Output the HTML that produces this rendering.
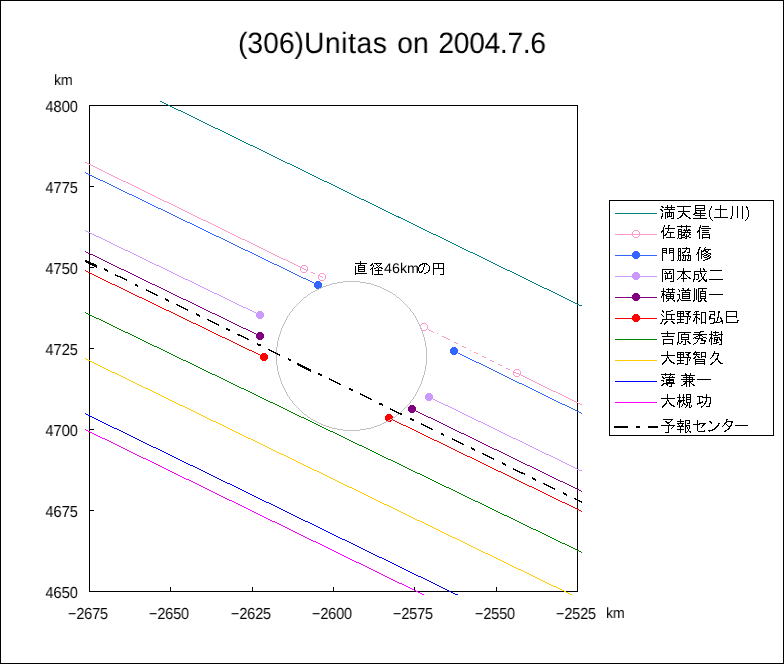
<!DOCTYPE html>
<html lang="ja">
<head>
<meta charset="utf-8">
<title>(306)Unitas on 2004.7.6</title>
<style>
html,body{margin:0;padding:0;background:#fff;overflow:hidden}
#chart{position:relative;width:784px;height:664px;box-sizing:border-box;border:1px solid #000;background:#fff;overflow:hidden;font-family:"Liberation Sans",sans-serif;color:#000}
#chart svg{margin:-1px 0 0 -1px}
.t{position:absolute;white-space:nowrap;line-height:1;margin:-1px 0 0 -1px;transform-origin:0 0;will-change:transform;text-rendering:geometricPrecision}
.title{font-size:29.5px;transform:scaleX(.9575);word-spacing:2px}
.title .u{letter-spacing:.6px}
.title .d{letter-spacing:-.35px}
.yl{font-size:16px;left:24px;width:54px;text-align:right;transform-origin:100% 0;transform:scaleX(.92)}
.xl{font-size:16px;top:607px;width:60px;text-align:center;transform-origin:50% 0;transform:scaleX(.89)}
.km{font-size:15px;transform:scaleX(.93)}
.ann{font-size:14px;transform:scaleX(1.02)}
.sr{position:absolute;width:1px;height:1px;margin:-1px;padding:0;border:0;overflow:hidden;clip:rect(0 0 0 0);clip-path:inset(50%);white-space:nowrap;list-style:none}
</style>
</head>
<body>
<div id="chart">
<svg role="img" aria-label="(306)Unitas on 2004.7.6 occultation chord chart" width="784" height="664" viewBox="0 0 784 664" shape-rendering="crispEdges" style="position:absolute;left:0;top:0">
<defs><clipPath id="pc"><rect x="85" y="101" width="497" height="494"/></clipPath></defs>
<g id="axes">
<rect x="89.5" y="105.5" width="488" height="486" fill="none" stroke="#000" stroke-width="1"/>
<path d="M90 510.5h4M170.5 591v-4M90 429.5h4M252.5 591v-4M90 348.5h4M333.5 591v-4M90 267.5h4M414.5 591v-4M90 186.5h4M496.5 591v-4" stroke="#000" stroke-width="1" fill="none"/>
</g>
<g id="series" clip-path="url(#pc)">
<path d="M150.00 95.65L582.00 305.74v1L150.00 96.65z" fill="#008080"/>
<path d="M85.00 161.76L304.00 268.50v1L85.00 162.76z" fill="#FF99CC"/>
<path d="M304.00 268.50L307.00 269.83v1L304.00 269.50z" fill="#FF99CC"/>
<path d="M311.00 271.61L315.00 273.39v1L311.00 272.61z" fill="#FF99CC"/>
<path d="M318.00 274.72L323.00 276.94v1L318.00 275.72z" fill="#FF99CC"/>
<path d="M428.00 328.78L434.00 331.75v1L428.00 329.78z" fill="#FF99CC"/>
<path d="M437.40 333.43L438.40 333.92v1L437.40 334.43z" fill="#FF99CC"/>
<path d="M442.00 335.70L450.00 339.66v1L442.00 336.70z" fill="#FF99CC"/>
<path d="M454.00 341.64L458.00 343.62v1L454.00 342.64z" fill="#FF99CC"/>
<path d="M462.00 345.60L466.00 347.57v1L462.00 346.60z" fill="#FF99CC"/>
<path d="M470.20 349.65L471.20 350.15v1L470.20 350.65z" fill="#FF99CC"/>
<path d="M474.00 351.53L478.00 353.51v1L474.00 352.53z" fill="#FF99CC"/>
<path d="M482.00 355.49L486.00 357.47v1L482.00 356.49z" fill="#FF99CC"/>
<path d="M490.00 359.45L494.00 361.42v1L490.00 360.45z" fill="#FF99CC"/>
<path d="M498.00 363.40L502.00 365.38v1L498.00 364.40z" fill="#FF99CC"/>
<path d="M506.00 367.36L510.00 369.34v1L506.00 368.36z" fill="#FF99CC"/>
<path d="M513.00 370.82L517.00 372.80v1L513.00 371.82z" fill="#FF99CC"/>
<path d="M517.00 372.50L582.00 404.55v1L517.00 373.50z" fill="#FF99CC"/>
<circle cx="304" cy="269" r="3.5" fill="none" stroke="#FF99CC" stroke-width="1"/>
<circle cx="322" cy="277" r="3.5" fill="none" stroke="#FF99CC" stroke-width="1"/>
<circle cx="424" cy="327" r="3.5" fill="none" stroke="#FF99CC" stroke-width="1"/>
<circle cx="517" cy="373" r="3.5" fill="none" stroke="#FF99CC" stroke-width="1"/>
<path d="M85.00 172.06L318.00 284.50v1L85.00 173.06z" fill="#3366FF"/>
<path d="M454.00 350.50L582.00 413.04v1L454.00 351.50z" fill="#3366FF"/>
<circle cx="318" cy="285" r="4" fill="#3366FF"/>
<circle cx="454" cy="351" r="4" fill="#3366FF"/>
<path d="M85.00 229.96L260.00 314.50v1L85.00 230.96z" fill="#CC99FF"/>
<path d="M429.00 396.50L582.00 470.74v1L429.00 397.50z" fill="#CC99FF"/>
<circle cx="260" cy="315" r="4" fill="#CC99FF"/>
<circle cx="429" cy="397" r="4" fill="#CC99FF"/>
<path d="M85.00 250.86L260.00 335.50v1L85.00 251.86z" fill="#800080"/>
<path d="M412.00 408.50L582.00 490.94v1L412.00 409.50z" fill="#800080"/>
<circle cx="260" cy="336" r="4" fill="#800080"/>
<circle cx="412" cy="409" r="4" fill="#800080"/>
<path d="M85.00 270.26L264.00 356.50v1L85.00 271.26z" fill="#FF0000"/>
<path d="M389.00 417.50L582.00 510.94v1L389.00 418.50z" fill="#FF0000"/>
<circle cx="264" cy="357" r="4" fill="#FF0000"/>
<circle cx="389" cy="418" r="4" fill="#FF0000"/>
<path d="M85.00 311.96L582.00 551.94v1L85.00 312.96z" fill="#008000"/>
<path d="M85.00 358.16L582.00 599.34v1L85.00 359.16z" fill="#FFCC00"/>
<path d="M85.00 413.16L470.00 600.57v1L85.00 414.16z" fill="#0000FF"/>
<path d="M85.00 428.96L440.00 602.28v1L85.00 429.96z" fill="#FF00FF"/>
<path transform="translate(0 .5)" d="M343 281h17M337 282h6M360 282h6M332 283h5M366 283h5M329 284h3M371 284h3M326 285h3M374 285h3M323 286h3M377 286h3M321 287h2M380 287h2M319 288h2M382 288h2M317 289h2M384 289h2M315 290h2M386 290h2M313 291h2M388 291h2M311 292h2M390 292h2M310 293h1M392 293h1M308 294h2M393 294h2M307 295h1M395 295h1M306 296h1M396 296h1M304 297h2M397 297h2M303 298h1M399 298h1M302 299h1M400 299h1M301 300h1M401 300h1M300 301h1M402 301h1M299 302h1M403 302h1M298 303h1M404 303h1M297 304h1M405 304h1M296 305h1M406 305h1M295 306h1M407 306h1M294 307h1M408 307h1M293 308h1M409 308h1M292 309h1M410 309h1M292 310h1M410 310h1M291 311h1M411 311h1M290 312h1M412 312h1M289 313h1M413 313h1M289 314h1M413 314h1M288 315h1M414 315h1M287 316h1M415 316h1M287 317h1M415 317h1M286 318h1M416 318h1M286 319h1M416 319h1M285 320h1M417 320h1M285 321h1M417 321h1M284 322h1M418 322h1M284 323h1M418 323h1M283 324h1M419 324h1M283 325h1M419 325h1M282 326h1M420 326h1M282 327h1M420 327h1M281 328h1M421 328h1M281 329h1M421 329h1M281 330h1M421 330h1M280 331h1M422 331h1M280 332h1M422 332h1M280 333h1M422 333h1M279 334h1M423 334h1M279 335h1M423 335h1M279 336h1M423 336h1M278 337h1M424 337h1M278 338h1M424 338h1M278 339h1M424 339h1M278 340h1M424 340h1M277 341h1M425 341h1M277 342h1M425 342h1M277 343h1M425 343h1M277 344h1M425 344h1M277 345h1M425 345h1M277 346h1M425 346h1M276 347h1M426 347h1M276 348h1M426 348h1M276 349h1M426 349h1M276 350h1M426 350h1M276 351h1M426 351h1M276 352h1M426 352h1M276 353h1M426 353h1M276 354h1M426 354h1M276 355h1M426 355h1M276 356h1M426 356h1M276 357h1M426 357h1M276 358h1M426 358h1M276 359h1M426 359h1M276 360h1M426 360h1M276 361h1M426 361h1M276 362h1M426 362h1M276 363h1M426 363h1M276 364h1M426 364h1M277 365h1M425 365h1M277 366h1M425 366h1M277 367h1M425 367h1M277 368h1M425 368h1M277 369h1M425 369h1M277 370h1M425 370h1M278 371h1M424 371h1M278 372h1M424 372h1M278 373h1M424 373h1M278 374h1M424 374h1M279 375h1M423 375h1M279 376h1M423 376h1M279 377h1M423 377h1M280 378h1M422 378h1M280 379h1M422 379h1M280 380h1M422 380h1M281 381h1M421 381h1M281 382h1M421 382h1M281 383h1M421 383h1M282 384h1M420 384h1M282 385h1M420 385h1M283 386h1M419 386h1M283 387h1M419 387h1M284 388h1M418 388h1M284 389h1M418 389h1M285 390h1M417 390h1M285 391h1M417 391h1M286 392h1M416 392h1M286 393h1M416 393h1M287 394h1M415 394h1M287 395h1M415 395h1M288 396h1M414 396h1M289 397h1M413 397h1M289 398h1M413 398h1M290 399h1M412 399h1M291 400h1M411 400h1M292 401h1M410 401h1M292 402h1M410 402h1M293 403h1M409 403h1M294 404h1M408 404h1M295 405h1M407 405h1M296 406h1M406 406h1M297 407h1M405 407h1M298 408h1M404 408h1M299 409h1M403 409h1M300 410h1M402 410h1M301 411h1M401 411h1M302 412h1M400 412h1M303 413h1M399 413h1M304 414h2M397 414h2M306 415h1M396 415h1M307 416h1M395 416h1M308 417h2M393 417h2M310 418h1M392 418h1M311 419h2M390 419h2M313 420h2M388 420h2M315 421h2M386 421h2M317 422h2M384 422h2M319 423h2M382 423h2M321 424h2M380 424h2M323 425h3M377 425h3M326 426h3M374 426h3M329 427h3M371 427h3M332 428h5M366 428h5M337 429h6M360 429h6M343 430h17" stroke="#C0C0C0" stroke-width="1" fill="none"/>
<path d="M84.40 259.28L97.00 265.13v2.7L84.40 261.98zM103.90 268.14L107.70 269.99v2.0L103.90 270.14zM115.00 273.80L127.00 279.65v1.5L115.00 275.30zM134.50 283.06L138.30 284.91v2.0L134.50 285.06zM145.60 288.72L157.60 294.57v1.5L145.60 290.22zM165.10 297.98L168.90 299.83v2.0L165.10 299.98zM176.20 303.64L188.20 309.49v1.5L176.20 305.14zM195.70 312.90L199.50 314.75v2.0L195.70 314.90zM206.80 318.56L218.80 324.41v1.5L206.80 320.06zM226.30 327.82L230.10 329.67v2.0L226.30 329.82zM237.40 333.48L249.40 339.33v1.5L237.40 334.98zM256.90 342.74L260.70 344.59v2.0L256.90 344.74zM268.00 348.40L280.00 354.25v1.5L268.00 349.90zM287.50 357.66L291.30 359.51v2.0L287.50 359.66zM297.00 362.64L311.00 369.46v2.5L297.00 365.14zM318.10 372.58L321.90 374.43v2.0L318.10 374.58zM329.20 378.24L341.20 384.09v1.5L329.20 379.74zM348.70 387.50L352.50 389.35v2.0L348.70 389.50zM359.80 393.16L371.80 399.01v1.5L359.80 394.66zM379.30 402.41L383.10 404.27v2.0L379.30 404.41zM390.40 408.08L402.40 413.93v1.5L390.40 409.58zM409.90 417.33L413.70 419.19v2.0L409.90 419.33zM421.00 423.00L433.00 428.85v1.5L421.00 424.50zM440.50 432.25L444.30 434.11v2.0L440.50 434.25zM451.60 437.92L463.60 443.77v1.5L451.60 439.42zM471.10 447.17L474.90 449.03v2.0L471.10 449.17zM482.20 452.84L494.20 458.69v1.5L482.20 454.34zM501.70 462.09L505.50 463.95v2.0L501.70 464.09zM512.80 467.76L524.80 473.61v1.5L512.80 469.26zM532.30 477.01L536.10 478.87v2.0L532.30 479.01zM543.40 482.68L555.40 488.53v1.5L543.40 484.18zM562.90 491.93L566.70 493.79v2.0L562.90 493.93zM574.00 497.60L586.00 503.45v1.5L574.00 499.10zM593.50 506.85L597.30 508.71v2.0L593.50 508.85z" fill="#000"/>
</g>
<g id="legend">
<rect x="609.5" y="200.5" width="164" height="235" fill="#fff" stroke="#000" stroke-width="1"/>
<path d="M615 213.5H657" stroke="#008080" stroke-width="1" fill="none"/>
<path d="M615 234.5H657" stroke="#FF99CC" stroke-width="1" fill="none"/>
<circle cx="636" cy="234" r="3.5" fill="none" stroke="#FF99CC" stroke-width="1"/>
<path d="M615 255.5H657" stroke="#3366FF" stroke-width="1" fill="none"/>
<circle cx="636" cy="255" r="4" fill="#3366FF"/>
<path d="M615 276.5H657" stroke="#CC99FF" stroke-width="1" fill="none"/>
<circle cx="636" cy="276" r="4" fill="#CC99FF"/>
<path d="M615 297.5H657" stroke="#800080" stroke-width="1" fill="none"/>
<circle cx="636" cy="297" r="4" fill="#800080"/>
<path d="M615 318.5H657" stroke="#FF0000" stroke-width="1" fill="none"/>
<circle cx="636" cy="318" r="4" fill="#FF0000"/>
<path d="M615 339.5H657" stroke="#008000" stroke-width="1" fill="none"/>
<path d="M615 360.5H657" stroke="#FFCC00" stroke-width="1" fill="none"/>
<path d="M615 381.5H657" stroke="#0000FF" stroke-width="1" fill="none"/>
<path d="M615 402.5H657" stroke="#FF00FF" stroke-width="1" fill="none"/>
<path d="M614 426h14v2h-14zM636 426h4v2h-4zM648 426h10v2h-10z" fill="#000"/>
<g role="img" aria-label="満天星(土川)" transform="translate(0 .5)"><title>満天星(土川)</title><path d="M667 205h1M671 205h1M695 205h10M720 205h1M661 206h2M667 206h1M671 206h1M677 206h14M695 206h1M704 206h1M711 206h1M720 206h1M732 206h1M737 206h1M742 206h1M746 206h1M662 207h2M665 207h10M683 207h1M695 207h1M704 207h1M711 207h1M720 207h1M732 207h1M737 207h1M742 207h1M746 207h2M667 208h1M671 208h1M683 208h1M695 208h10M710 208h1M720 208h1M732 208h1M737 208h1M742 208h1M747 208h1M660 209h2M664 209h11M683 209h1M695 209h1M704 209h1M710 209h1M715 209h12M732 209h1M737 209h1M742 209h1M747 209h1M661 210h2M669 210h1M683 210h1M695 210h10M709 210h1M720 210h1M732 210h1M737 210h1M742 210h1M748 210h1M662 211h1M669 211h1M678 211h12M695 211h1M700 211h1M709 211h1M720 211h1M732 211h1M737 211h1M742 211h1M748 211h1M665 212h9M683 212h1M695 212h2M700 212h1M709 212h1M720 212h1M732 212h1M737 212h1M742 212h1M748 212h1M662 213h1M665 213h1M667 213h1M669 213h1M671 213h1M673 213h1M682 213h3M694 213h12M709 213h1M720 213h1M732 213h1M737 213h1M742 213h1M748 213h1M662 214h1M665 214h1M667 214h1M669 214h1M671 214h1M673 214h1M682 214h1M684 214h2M693 214h2M700 214h1M709 214h1M720 214h1M732 214h1M737 214h1M742 214h1M748 214h1M662 215h1M665 215h1M667 215h1M669 215h1M671 215h1M673 215h1M681 215h2M685 215h2M695 215h10M709 215h1M720 215h1M732 215h1M737 215h1M742 215h1M748 215h1M661 216h2M665 216h1M667 216h5M673 216h1M680 216h2M686 216h2M700 216h1M709 216h1M720 216h1M731 216h1M737 216h1M742 216h1M748 216h1M661 217h1M665 217h1M667 217h1M673 217h1M679 217h2M688 217h2M700 217h1M710 217h1M714 217h14M731 217h1M737 217h1M742 217h1M747 217h1M661 218h1M665 218h1M671 218h3M677 218h2M689 218h2M693 218h14M710 218h1M730 218h2M742 218h1M747 218h1M711 219h1M746 219h1M712 220h1M745 220h1" stroke="#000" stroke-width="1" fill="none"/></g>
<g role="img" aria-label="佐藤 信" transform="translate(0 .5)"><title>佐藤 信</title><path d="M664 225h1M668 225h2M681 225h1M686 225h1M700 225h1M664 226h1M668 226h1M677 226h14M700 226h1M702 226h7M663 227h1M668 227h1M681 227h1M686 227h1M699 227h2M663 228h1M665 228h10M686 228h1M699 228h1M701 228h10M663 229h1M668 229h1M678 229h4M684 229h1M686 229h1M688 229h2M699 229h1M662 230h2M668 230h1M678 230h1M681 230h1M683 230h8M698 230h2M702 230h7M661 231h3M667 231h1M678 231h4M685 231h1M687 231h1M697 231h3M661 232h1M663 232h1M667 232h7M678 232h1M681 232h10M697 232h1M699 232h1M702 232h7M663 233h1M666 233h1M670 233h1M678 233h1M681 233h1M684 233h1M689 233h1M699 233h1M663 234h1M665 234h2M670 234h1M678 234h4M683 234h2M686 234h1M689 234h2M699 234h1M702 234h8M663 235h3M670 235h1M678 235h1M681 235h4M686 235h1M688 235h1M699 235h1M702 235h1M709 235h1M663 236h1M670 236h1M678 236h1M681 236h1M685 236h4M699 236h1M702 236h1M709 236h1M663 237h1M666 237h9M678 237h1M681 237h4M686 237h1M689 237h2M699 237h1M702 237h8M663 238h1M677 238h1M679 238h3M685 238h2M699 238h1M702 238h1M709 238h1" stroke="#000" stroke-width="1" fill="none"/></g>
<g role="img" aria-label="門脇 修" transform="translate(0 .5)"><title>門脇 修</title><path d="M686 247h1M699 247h2M705 247h1M662 248h5M669 248h5M678 248h3M682 248h8M699 248h1M704 248h1M662 249h1M666 249h1M669 249h1M673 249h1M678 249h1M680 249h1M686 249h1M689 249h1M698 249h2M704 249h7M662 250h5M669 250h5M678 250h1M680 250h1M685 250h1M689 250h1M698 250h1M701 250h1M703 250h3M708 250h1M662 251h1M666 251h1M669 251h1M673 251h1M678 251h3M684 251h2M689 251h1M698 251h1M701 251h3M705 251h3M662 252h5M669 252h5M678 252h1M680 252h1M682 252h3M687 252h3M697 252h2M701 252h1M706 252h2M662 253h1M666 253h1M669 253h1M673 253h1M678 253h1M680 253h1M682 253h1M697 253h2M701 253h1M704 253h2M708 253h3M662 254h1M673 254h1M678 254h1M680 254h1M683 254h1M688 254h1M696 254h1M698 254h1M701 254h3M706 254h2M710 254h1M662 255h1M673 255h1M678 255h3M682 255h9M698 255h1M701 255h1M704 255h3M708 255h2M662 256h1M673 256h1M678 256h1M680 256h1M683 256h1M685 256h1M688 256h1M690 256h1M698 256h1M701 256h1M703 256h1M707 256h2M710 256h1M662 257h1M673 257h1M678 257h1M680 257h1M683 257h1M685 257h1M688 257h1M690 257h1M698 257h1M701 257h1M704 257h3M709 257h2M662 258h1M673 258h1M678 258h1M680 258h1M683 258h1M685 258h1M688 258h1M690 258h1M698 258h1M701 258h1M707 258h3M662 259h1M673 259h1M678 259h1M680 259h1M682 259h1M685 259h1M687 259h1M690 259h1M698 259h1M705 259h3M662 260h1M671 260h3M677 260h1M679 260h2M682 260h4M687 260h4M698 260h1M703 260h2" stroke="#000" stroke-width="1" fill="none"/></g>
<g role="img" aria-label="岡本成二" transform="translate(0 .5)"><title>岡本成二</title><path d="M683 268h1M700 268h1M703 268h1M662 269h12M683 269h1M700 269h1M703 269h2M662 270h1M673 270h1M683 270h1M700 270h1M704 270h1M710 270h12M662 271h1M665 271h1M669 271h2M673 271h1M677 271h14M694 271h13M662 272h1M666 272h1M669 272h1M673 272h1M682 272h3M694 272h1M700 272h1M662 273h1M664 273h8M673 273h1M682 273h3M694 273h1M700 273h2M705 273h1M662 274h1M667 274h1M673 274h1M681 274h1M683 274h1M685 274h1M694 274h5M701 274h1M704 274h1M662 275h1M665 275h1M667 275h1M671 275h1M673 275h1M681 275h1M683 275h1M686 275h1M694 275h1M698 275h1M701 275h1M704 275h1M662 276h1M665 276h1M667 276h1M671 276h1M673 276h1M680 276h1M683 276h1M687 276h1M694 276h1M698 276h1M701 276h1M703 276h1M662 277h1M665 277h1M667 277h1M671 277h1M673 277h1M679 277h1M683 277h1M688 277h2M694 277h1M698 277h1M702 277h2M662 278h1M665 278h7M673 278h1M678 278h1M681 278h6M689 278h2M694 278h1M698 278h1M702 278h2M662 279h1M665 279h1M673 279h1M677 279h1M683 279h1M693 279h2M696 279h2M701 279h1M703 279h2M706 279h1M709 279h14M662 280h1M673 280h1M683 280h1M693 280h1M699 280h2M704 280h3M662 281h1M670 281h4M683 281h1M693 281h1M698 281h2M705 281h2" stroke="#000" stroke-width="1" fill="none"/></g>
<g role="img" aria-label="横道順一" transform="translate(0 .5)"><title>横道順一</title><path d="M663 288h1M668 288h1M672 288h1M682 288h2M688 288h1M694 288h1M698 288h9M663 289h1M666 289h9M678 289h1M683 289h1M687 289h2M694 289h1M696 289h1M698 289h1M702 289h1M663 290h1M668 290h1M672 290h1M679 290h1M681 290h10M694 290h1M696 290h1M698 290h1M702 290h1M661 291h5M668 291h1M672 291h1M679 291h1M685 291h1M694 291h1M696 291h1M698 291h1M700 291h6M663 292h1M666 292h9M682 292h8M694 292h1M696 292h1M698 292h1M700 292h1M705 292h1M662 293h2M670 293h1M682 293h1M689 293h1M694 293h1M696 293h1M698 293h1M700 293h6M662 294h3M666 294h8M677 294h3M682 294h8M694 294h1M696 294h1M698 294h1M700 294h1M705 294h1M709 294h14M662 295h2M665 295h2M670 295h1M673 295h1M679 295h1M682 295h1M689 295h1M694 295h1M696 295h1M698 295h1M700 295h1M705 295h1M661 296h1M663 296h1M666 296h8M679 296h1M682 296h8M694 296h1M696 296h1M698 296h1M700 296h6M661 297h1M663 297h1M666 297h1M670 297h1M673 297h1M679 297h1M682 297h1M689 297h1M694 297h1M696 297h1M698 297h1M700 297h1M705 297h1M663 298h1M666 298h8M679 298h1M682 298h8M694 298h1M696 298h1M698 298h1M700 298h6M663 299h1M668 299h1M672 299h1M678 299h1M680 299h1M694 299h1M696 299h1M698 299h1M701 299h1M704 299h1M663 300h1M667 300h2M673 300h2M677 300h2M681 300h10M693 300h2M698 300h1M700 300h2M704 300h2M663 301h1M666 301h1M674 301h1M677 301h1M693 301h1M698 301h3M705 301h2" stroke="#000" stroke-width="1" fill="none"/></g>
<g role="img" aria-label="浜野和弘巳" transform="translate(0 .5)"><title>浜野和弘巳</title><path d="M662 310h1M671 310h2M662 311h2M666 311h5M677 311h7M685 311h6M695 311h4M709 311h6M718 311h2M726 311h11M663 312h1M666 312h1M677 312h1M680 312h1M683 312h1M688 312h2M694 312h1M696 312h1M701 312h5M714 312h1M718 312h2M726 312h1M736 312h1M666 313h1M677 313h7M686 313h3M696 313h1M701 313h1M705 313h1M714 313h1M718 313h1M726 313h1M736 313h1M661 314h1M666 314h9M677 314h1M680 314h1M683 314h1M687 314h2M693 314h7M701 314h1M705 314h1M710 314h5M718 314h1M726 314h1M736 314h1M662 315h1M666 315h1M671 315h1M677 315h1M680 315h1M683 315h1M688 315h1M696 315h1M701 315h1M705 315h1M710 315h1M714 315h1M718 315h1M726 315h1M736 315h1M663 316h1M666 316h1M671 316h1M677 316h14M695 316h2M701 316h1M705 316h1M709 316h2M718 316h1M726 316h11M666 317h1M671 317h1M680 317h1M687 317h1M690 317h1M695 317h3M701 317h1M705 317h1M709 317h2M717 317h2M720 317h1M726 317h1M736 317h1M666 318h1M671 318h1M680 318h1M687 318h1M689 318h1M694 318h1M696 318h1M698 318h2M701 318h1M705 318h1M709 318h6M717 318h1M720 318h2M726 318h1M662 319h13M677 319h7M687 319h1M689 319h1M694 319h1M696 319h1M699 319h1M701 319h1M705 319h1M709 319h1M714 319h1M717 319h1M721 319h1M726 319h1M662 320h1M680 320h1M687 320h1M693 320h2M696 320h1M701 320h1M705 320h1M714 320h1M717 320h1M721 320h2M726 320h1M737 320h2M662 321h1M666 321h2M671 321h2M680 321h1M687 321h1M693 321h1M696 321h1M701 321h1M705 321h1M714 321h1M716 321h1M720 321h3M726 321h1M737 321h1M661 322h1M665 322h2M672 322h2M677 322h7M687 322h1M696 322h1M701 322h5M713 322h7M722 322h1M726 322h12M660 323h2M664 323h2M673 323h2M677 323h1M685 323h3M696 323h1M701 323h1M705 323h1M710 323h4M722 323h1M664 324h1" stroke="#000" stroke-width="1" fill="none"/></g>
<g role="img" aria-label="吉原秀樹" transform="translate(0 .5)"><title>吉原秀樹</title><path d="M667 331h1M700 331h4M711 331h1M715 331h1M721 331h1M667 332h1M678 332h13M694 332h7M711 332h1M713 332h6M721 332h1M661 333h14M678 333h1M684 333h1M699 333h1M711 333h1M715 333h1M721 333h1M667 334h1M678 334h1M681 334h8M693 334h14M709 334h4M715 334h1M718 334h5M667 335h1M678 335h1M681 335h1M688 335h1M698 335h4M711 335h1M713 335h5M721 335h1M662 336h12M678 336h1M681 336h1M688 336h1M696 336h2M699 336h1M702 336h1M711 336h1M721 336h1M678 337h1M681 337h8M694 337h2M699 337h1M703 337h3M710 337h2M714 337h6M721 337h1M678 338h1M681 338h1M688 338h1M693 338h1M695 338h8M706 338h1M710 338h3M714 338h1M717 338h1M719 338h1M721 338h1M663 339h10M678 339h1M681 339h8M698 339h1M701 339h2M709 339h1M711 339h1M714 339h4M719 339h3M663 340h1M672 340h1M678 340h1M685 340h1M697 340h1M701 340h5M709 340h1M711 340h1M714 340h1M716 340h2M720 340h2M663 341h1M672 341h1M678 341h1M681 341h2M685 341h1M687 341h2M697 341h1M704 341h2M709 341h1M711 341h1M714 341h1M716 341h1M721 341h1M663 342h1M672 342h1M677 342h2M681 342h1M685 342h1M688 342h2M696 342h1M704 342h1M711 342h1M716 342h3M721 342h1M663 343h10M677 343h1M679 343h2M685 343h1M689 343h2M694 343h2M700 343h5M711 343h1M713 343h4M721 343h1M663 344h1M672 344h1M677 344h1M683 344h3M693 344h1M711 344h1M719 344h3" stroke="#000" stroke-width="1" fill="none"/></g>
<g role="img" aria-label="大野智久" transform="translate(0 .5)"><title>大野智久</title><path d="M667 351h1M695 351h1M714 351h1M667 352h1M677 352h7M685 352h6M694 352h6M701 352h5M714 352h1M667 353h1M677 353h1M680 353h1M683 353h1M688 353h2M693 353h2M696 353h1M701 353h1M705 353h1M713 353h6M667 354h1M677 354h7M686 354h3M693 354h7M701 354h1M705 354h1M713 354h1M718 354h1M661 355h14M677 355h1M680 355h1M683 355h1M687 355h2M696 355h1M701 355h1M705 355h1M712 355h2M717 355h2M667 356h1M677 356h1M680 356h1M683 356h1M688 356h1M695 356h1M697 356h2M701 356h5M712 356h1M717 356h1M667 357h2M677 357h14M694 357h2M698 357h2M701 357h1M705 357h1M711 357h1M717 357h1M666 358h1M668 358h1M680 358h1M687 358h1M690 358h1M693 358h2M710 358h1M716 358h2M666 359h1M669 359h1M680 359h1M687 359h1M689 359h1M695 359h10M715 359h3M665 360h2M669 360h2M677 360h7M687 360h1M689 360h1M695 360h1M704 360h1M715 360h1M718 360h1M664 361h2M670 361h2M680 361h1M687 361h1M695 361h10M714 361h1M718 361h2M663 362h2M671 362h3M680 362h1M687 362h1M695 362h1M704 362h1M712 362h2M719 362h2M662 363h2M673 363h2M677 363h7M687 363h1M695 363h10M711 363h2M720 363h3M662 364h1M677 364h1M685 364h3M695 364h1M704 364h1M710 364h2" stroke="#000" stroke-width="1" fill="none"/></g>
<g role="img" aria-label="薄 兼一" transform="translate(0 .5)"><title>薄 兼一</title><path d="M665 373h1M670 373h1M685 373h1M690 373h1M661 374h14M685 374h2M690 374h1M665 375h1M670 375h1M681 375h14M662 376h1M669 376h1M672 376h1M686 376h1M689 376h1M662 377h2M665 377h10M683 377h10M663 378h2M669 378h1M686 378h1M689 378h1M692 378h1M666 379h8M681 379h14M697 379h14M661 380h3M666 380h8M686 380h1M689 380h1M692 380h1M663 381h1M666 381h1M669 381h1M673 381h1M683 381h10M666 382h8M685 382h2M689 382h2M663 383h12M684 383h3M689 383h1M691 383h1M662 384h2M666 384h2M671 384h1M683 384h2M686 384h1M689 384h1M692 384h2M661 385h2M667 385h1M671 385h1M681 385h2M686 385h1M689 385h1M693 385h2M669 386h3M686 386h1M689 386h1" stroke="#000" stroke-width="1" fill="none"/></g>
<g role="img" aria-label="大槻 功" transform="translate(0 .5)"><title>大槻 功</title><path d="M667 394h1M679 394h1M683 394h1M686 394h5M706 394h1M667 395h1M679 395h1M683 395h1M686 395h1M690 395h1M706 395h1M667 396h1M679 396h1M683 396h1M686 396h1M690 396h1M697 396h6M706 396h1M667 397h1M677 397h4M682 397h3M686 397h5M699 397h1M702 397h9M661 398h14M679 398h1M683 398h1M686 398h1M690 398h1M699 398h1M706 398h1M710 398h1M667 399h1M679 399h1M683 399h1M686 399h5M699 399h1M706 399h1M710 399h1M667 400h2M678 400h7M686 400h1M690 400h1M699 400h1M706 400h1M710 400h1M666 401h1M668 401h1M678 401h4M683 401h1M686 401h1M690 401h1M699 401h1M702 401h1M705 401h2M710 401h1M666 402h1M669 402h1M677 402h1M679 402h2M683 402h1M686 402h5M699 402h4M705 402h1M710 402h1M665 403h2M669 403h2M677 403h1M679 403h1M683 403h2M687 403h1M689 403h1M697 403h4M704 403h2M709 403h2M664 404h2M670 404h2M677 404h1M679 404h1M682 404h1M684 404h2M687 404h1M689 404h1M697 404h1M704 404h1M709 404h1M663 405h2M671 405h3M679 405h1M682 405h1M686 405h2M689 405h1M691 405h1M703 405h1M709 405h1M662 406h2M673 406h2M679 406h1M681 406h1M686 406h1M689 406h1M691 406h1M701 406h2M706 406h4M662 407h1M679 407h1M685 407h1M689 407h2M701 407h1" stroke="#000" stroke-width="1" fill="none"/></g>
<g role="img" aria-label="予報センター" transform="translate(0 .5)"><title>予報センター</title><path d="M663 419h10M680 419h1M726 419h2M671 420h1M680 420h1M685 420h5M697 420h1M726 420h1M665 421h2M670 421h1M677 421h7M685 421h1M689 421h1M697 421h1M709 421h2M726 421h7M666 422h4M680 422h1M685 422h1M689 422h1M697 422h1M710 422h2M725 422h2M731 422h2M667 423h2M677 423h7M685 423h1M687 423h3M697 423h1M699 423h7M711 423h1M718 423h2M724 423h2M731 423h1M669 424h1M678 424h1M682 424h1M685 424h1M693 424h7M703 424h2M718 424h1M724 424h1M726 424h1M731 424h1M661 425h14M679 425h1M681 425h2M685 425h5M697 425h1M702 425h2M717 425h2M723 425h1M727 425h1M730 425h2M735 425h13M668 426h1M673 426h1M677 426h7M685 426h2M689 426h1M697 426h1M702 426h1M716 426h2M722 426h1M728 426h3M668 427h1M672 427h1M680 427h1M685 427h1M687 427h1M689 427h1M697 427h1M701 427h1M715 427h2M729 427h1M668 428h1M671 428h1M680 428h1M685 428h1M687 428h1M689 428h1M697 428h1M714 428h2M728 428h2M668 429h1M677 429h7M685 429h1M688 429h1M697 429h1M712 429h3M727 429h2M668 430h1M680 430h1M685 430h1M688 430h1M697 430h1M704 430h1M708 430h5M725 430h2M668 431h1M680 431h1M685 431h1M687 431h1M689 431h2M698 431h7M709 431h1M724 431h2M665 432h4M680 432h1M685 432h2M690 432h1" stroke="#000" stroke-width="1" fill="none"/></g>
</g>
<g id="annotation">
<g role="img" aria-label="直径46kmの円" transform="translate(0 .5)"><title>直径46kmの円</title><path d="M360 261h1M360 262h1M355 263h12M360 264h1M358 265h7M355 266h1M358 266h1M364 266h1M355 267h1M358 267h7M355 268h1M358 268h1M364 268h1M355 269h1M358 269h7M355 270h1M358 270h1M364 270h1M355 271h1M358 271h7M355 272h1M355 273h12M355 274h1M372 263h1M374 263h8M371 264h2M376 264h1M380 264h1M370 265h2M373 265h1M377 265h1M379 265h1M373 266h1M378 266h1M372 267h1M376 267h2M379 267h3M371 268h2M374 268h2M378 268h1M381 268h2M370 269h1M372 269h1M378 269h1M372 270h1M375 270h7M372 271h1M378 271h1M372 272h1M378 272h1M372 273h1M378 273h1M372 274h1M374 274h9M422 263h5M420 264h3M424 264h1M426 264h2M419 265h2M424 265h1M428 265h1M419 266h1M424 266h1M429 266h1M418 267h1M423 267h1M429 267h1M418 268h1M423 268h1M429 268h1M418 269h1M423 269h1M429 269h1M418 270h1M422 270h1M428 270h2M419 271h1M421 271h2M428 271h1M419 272h3M426 272h2M424 273h2M433 263h11M433 264h1M438 264h1M443 264h1M433 265h1M438 265h1M443 265h1M433 266h1M438 266h1M443 266h1M433 267h1M438 267h1M443 267h1M433 268h11M433 269h1M443 269h1M433 270h1M443 270h1M433 271h1M443 271h1M433 272h1M443 272h1M433 273h1M443 273h1M433 274h1M440 274h4" stroke="#000" stroke-width="1" fill="none"/></g>
</g>
</svg>
<div class="t title" style="left:238.2px;top:29px">(306)<span class="u">Unitas</span> on <span class="d">2004.7.6</span></div>
<div class="t yl" style="top:586px">4650</div>
<div class="t yl" style="top:505px">4675</div>
<div class="t yl" style="top:424px">4700</div>
<div class="t yl" style="top:343px">4725</div>
<div class="t yl" style="top:262px">4750</div>
<div class="t yl" style="top:181px">4775</div>
<div class="t yl" style="top:100px">4800</div>
<div class="t xl" style="left:58.3px">−2675</div>
<div class="t xl" style="left:139.3px">−2650</div>
<div class="t xl" style="left:221.3px">−2625</div>
<div class="t xl" style="left:302.3px">−2600</div>
<div class="t xl" style="left:383.3px">−2575</div>
<div class="t xl" style="left:465.3px">−2550</div>
<div class="t xl" style="left:546.3px">−2525</div>
<div class="t km" style="left:54.4px;top:73px">km</div>
<div class="t km" style="left:605.6px;top:606px">km</div>
<ul class="sr" aria-label="legend"><li>満天星(土川)</li><li>佐藤 信</li><li>門脇 修</li><li>岡本成二</li><li>横道順一</li><li>浜野和弘巳</li><li>吉原秀樹</li><li>大野智久</li><li>薄 兼一</li><li>大槻 功</li><li>予報センター</li><li>直径46kmの円</li></ul>
<div class="t ann" style="left:384px;top:260.6px">46km</div>
</div>
</body>
</html>
